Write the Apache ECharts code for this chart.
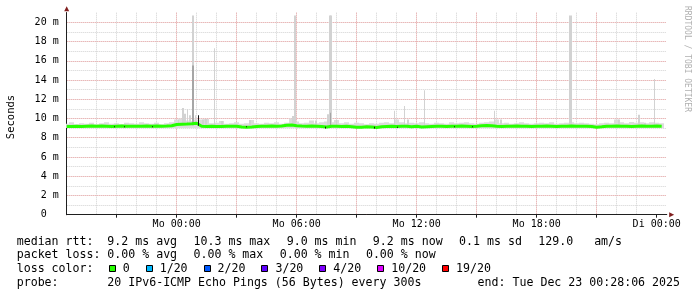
<!DOCTYPE html>
<html><head><meta charset="utf-8">
<script src="https://cdn.jsdelivr.net/npm/echarts@6/dist/echarts.min.js"></script>
<style>html,body{margin:0;padding:0;background:#fff}#c{width:697px;height:297px}</style>
</head><body><div id="c"></div>
<script>
// time in hours relative to Mo 00:00
const startHour = -5.5;
const stepHours = 0.25;
const xMin = -5.5, xMax = 24.5;
const xMinorTicks = [-5, -4, -3, -2, -1, 0, 1, 2, 3, 4, 5, 6, 7, 8, 9, 10, 11, 12, 13, 14, 15, 16, 17, 18, 19, 20, 21, 22, 23, 24];
const xMajorTicks = [-3, 0, 3, 6, 9, 12, 15, 18, 21, 24];
const xLabelTicks = [0, 6, 12, 18, 24];
const xTickLabels = ['Mo 00:00', 'Mo 06:00', 'Mo 12:00', 'Mo 18:00', 'Di 00:00'];
const yMax = 21;

// median rtt (ms), every 15 min
const median = [
  9.18, 9.17, 9.2, 9.18, 9.2, 9.22, 9.2, 9.21, 9.2, 9.18, 9.2, 9.22, 9.2, 9.2, 9.19, 9.2, 9.21, 9.2, 9.22, 9.2, 9.21, 9.25,
  9.38, 9.4, 9.42, 9.45,
  9.5,
  9.2, 9.18, 9.2, 9.17, 9.18, 9.2, 9.2, 9.2,
  9.12, 9.1, 9.12,
  9.18, 9.2, 9.2, 9.22, 9.2, 9.22,
  9.3, 9.32,
  9.25, 9.22, 9.2, 9.22, 9.2, 9.18, 9.12,
  9.2, 9.2, 9.18, 9.2, 9.15, 9.08, 9.1, 9.15, 9.12, 9.06,
  9.15, 9.18, 9.2, 9.18, 9.2, 9.2, 9.15, 9.2,
  9.12, 9.15, 9.18, 9.2,
  9.2, 9.18, 9.2, 9.2, 9.22, 9.2, 9.18, 9.2, 9.25, 9.28,
  9.25, 9.2, 9.18, 9.2, 9.2, 9.22, 9.2, 9.2, 9.18, 9.2,
  9.2, 9.22, 9.2, 9.18, 9.2, 9.2, 9.22, 9.2, 9.2, 9.2, 9.18,
  9.1, 9.14,
  9.2, 9.2, 9.22, 9.2, 9.2, 9.18, 9.2, 9.22, 9.2, 9.2, 9.22, 9.2
];

// upper edge of the low smoke (ms), every 15 min
const smokeHi = [
  9.45, 9.6, 9.4, 9.5, 9.45, 9.55, 9.4, 9.5, 9.6, 9.45, 9.5, 9.4, 9.55, 9.5, 9.45, 9.6, 9.5, 9.45, 9.55, 9.4, 9.5, 9.6,
  9.9, 10.0, 9.8, 9.75, 9.9,
  9.9, 9.95, 9.5, 9.55, 9.75, 9.45, 9.5, 9.6, 9.45, 9.5, 9.85, 9.5, 9.45, 9.55, 9.5, 9.6, 9.45, 9.55, 10.0,
  9.7, 9.5, 9.55, 9.8, 9.5, 9.6, 9.7,
  9.6, 9.85, 9.5, 9.6, 9.45, 9.55, 9.5, 9.4, 9.5, 9.45,
  9.55, 9.6, 9.5, 9.9, 9.6, 9.5, 9.55, 9.5,
  9.6, 9.5, 9.45, 9.55,
  9.5, 9.45, 9.6, 9.5, 9.55, 9.6, 9.5, 9.45, 9.55, 9.6,
  9.7, 9.9, 9.5, 9.55, 9.45, 9.5, 9.6, 9.5, 9.45, 9.5,
  9.55, 9.5, 9.6, 9.45, 9.5, 9.55, 9.6, 9.5, 9.55, 9.5, 9.45,
  9.4, 9.5,
  9.55, 9.5, 9.9, 9.6, 9.5, 9.65, 9.55, 9.6, 9.5, 9.6, 9.55, 9.5
];
const smokeFloor = 9.02;

// individual smoke spikes (5 min samples)
const spikeHours = [0.09, 0.315, 0.415, 0.54, 0.665, 0.815, 0.94, 1.315, 1.465, 1.89, 2.265, 3.665,
  5.815, 5.9, 6.955, 7.565, 7.65, 7.73, 7.99, 10.89, 11.385, 11.55, 12.385, 15.885, 16.215,
  19.66, 19.74, 22.115, 23.13, 23.415, 23.885];
const spikeTops = [9.9, 11.1, 10.5, 10.95, 10.35, 20.7, 10.35, 9.9, 9.95, 17.3, 9.75, 9.85,
  10.25, 20.7, 9.8, 10.45, 20.7, 20.7, 9.85, 10.8, 11.3, 9.9, 12.95, 10.8, 9.9,
  20.7, 20.7, 9.9, 10.4, 9.55, 14.1];
const spikeBase = 9.3;

const darkSpikeHours = [0.815, 7.69];
const darkSpikeTops = [15.5, 10.6];

const blackHours = [-3.12, -2.62, -1.2, 1.07, 3.5, 7.45, 9.88, 11.03, 13.87, 14.8];
const blackLo = [9.1, 9.1, 9.1, 9.25, 9.1, 8.95, 8.95, 9.05, 9.1, 9.1];
const blackHi = [9.2, 9.2, 9.2, 10.35, 9.2, 9.15, 9.15, 9.15, 9.2, 9.2];

const lossLabels = ['0', '1/20', '2/20', '3/20', '4/20', '10/20', '19/20'];
const lossColors = ['#26ff00', '#00b8ff', '#0059ff', '#5e00ff', '#7e00ff', '#dd00ff', '#ff0000'];

const rttLine = ['median rtt:', '9.2 ms avg', '10.3 ms max', '9.0 ms min', '9.2 ms now', '0.1 ms sd', '129.0   am/s'];
const lossLine = ['packet loss:', '0.00 % avg', '0.00 % max', '0.00 % min', '0.00 % now'];
const probeText = '20 IPv6-ICMP Echo Pings (56 Bytes) every 300s';
const endText = 'end: Tue Dec 23 00:28:06 2025';

const MONO = '"DejaVu Sans Mono"';
const chart = echarts.init(document.getElementById('c'), null, {renderer: 'canvas'});

function rectItem(color, widthH) {
  return function (params, api) {
    const x = api.value(0), lo = api.value(1), hi = api.value(2);
    const p1 = api.coord([x - widthH / 2, hi]);
    const p2 = api.coord([x + widthH / 2, lo]);
    const x0 = Math.round(p1[0]);
    const w = Math.max(1, Math.round(p2[0]) - x0);
    return {type: 'rect', shape: {x: x0, y: p1[1], width: w, height: p2[1] - p1[1]}, style: {fill: color}};
  };
}

const baseSmoke = median.map((m, i) => [startHour + i * stepHours, smokeFloor, smokeHi[i]]);
const spikes = spikeHours.map((h, i) => [h, spikeBase, spikeTops[i]]);
const darkSpikes = darkSpikeHours.map((h, i) => [h, spikeBase, darkSpikeTops[i]]);
const blacks = blackHours.map((h, i) => [h, blackLo[i], blackHi[i]]);
const medianData = median.map((v, i) => [startHour + i * stepHours, v]);

// legend text
const cw = 6.97, gap = 16.5, x0 = 16.7, xv = 107.3;
const rowY = [241.7, 255.3, 269.3, 282.7];
const graphics = [];
function txt(s, x, y) {
  graphics.push({type: 'text', x: x, y: y, silent: true,
    style: {text: s, font: '11.6px ' + MONO, fill: '#000', align: 'left', verticalAlign: 'middle'}});
}
function row(list, y) {
  txt(list[0], x0, y);
  let x = xv;
  for (let k = 1; k < list.length; k++) { txt(list[k], x, y); x += list[k].length * cw + gap; }
}
row(rttLine, rowY[0]);
row(lossLine, rowY[1]);
txt('loss color:', x0, rowY[2]);
let bx = 108.7;
lossLabels.forEach((lab, k) => {
  graphics.push({type: 'rect', silent: true, shape: {x: Math.round(bx) + 0.5, y: 265.5, width: 6, height: 6},
    style: {fill: lossColors[k], stroke: '#000', lineWidth: 1}});
  const tx = bx + 14;
  txt(lab, tx, rowY[2]);
  bx = tx + lab.length * cw + 16;
});
txt('probe:', x0, rowY[3]);
txt(probeText, xv, rowY[3]);
graphics.push({type: 'text', x: 680, y: rowY[3], silent: true,
  style: {text: endText, font: '11.6px ' + MONO, fill: '#000', align: 'right', verticalAlign: 'middle'}});
graphics.push({type: 'text', x: 11.7, y: 117, rotation: Math.PI / 2, silent: true,
  style: {text: 'Seconds', font: '10.5px ' + MONO, fill: '#000', align: 'center', verticalAlign: 'middle'}});
graphics.push({type: 'text', x: 687.5, y: 59, rotation: -Math.PI / 2, silent: true,
  style: {text: 'RRDTOOL / TOBI OETIKER', font: '8px ' + MONO, fill: '#b0b0b0', align: 'center', verticalAlign: 'middle'}});

const minorStyle = {color: '#d2d2d2', type: [1, 1], width: 1};
const majorStyle = {color: '#efa8a8', type: [1, 1], width: 1};

const option = {
  animation: false,
  backgroundColor: '#ffffff',
  grid: {left: 66.7, right: 30.3, top: 12.7, bottom: 82.3, containLabel: false},
  xAxis: [
    {type: 'value', min: xMin, max: xMax, position: 'bottom', z: 1,
      axisLine: {show: false}, axisTick: {show: false, customValues: xMinorTicks},
      axisLabel: {show: false, customValues: xLabelTicks},
      splitLine: {show: true, showMinLine: false, showMaxLine: false, lineStyle: minorStyle}},
    {type: 'value', min: xMin, max: xMax, position: 'bottom', z: 3,
      axisLine: {show: true, onZero: false, lineStyle: {color: '#1f1f1f', width: 1}},
      axisTick: {show: true, length: 3, inside: false, lineStyle: {color: '#1f1f1f'}, customValues: xMajorTicks},
      axisLabel: {show: true, margin: 5, color: '#000', fontFamily: MONO, fontSize: 10, customValues: xLabelTicks,
        formatter: v => { const k = xLabelTicks.indexOf(Math.round(v)); return k >= 0 ? xTickLabels[k] : ''; }},
      splitLine: {show: true, showMinLine: false, showMaxLine: false, lineStyle: majorStyle}},
    {type: 'value', min: xMin, max: xMax, position: 'bottom', z: 2,
      axisLine: {show: true, onZero: false, lineStyle: {color: '#801f1f', width: 1},
        symbol: ['none', 'triangle'], symbolSize: [5, 5], symbolOffset: [0, 5]},
      axisTick: {show: false}, axisLabel: {show: false}, splitLine: {show: false}}
  ],
  yAxis: [
    {type: 'value', min: 0, max: yMax, interval: 1, position: 'left', z: 1,
      axisLine: {show: false}, axisTick: {show: false}, axisLabel: {show: false},
      splitLine: {show: true, showMinLine: false, showMaxLine: false, lineStyle: minorStyle}},
    {type: 'value', min: 0, max: yMax, interval: 2, position: 'left', z: 3,
      axisLine: {show: true, onZero: false, lineStyle: {color: '#1f1f1f', width: 1}},
      axisTick: {show: false},
      axisLabel: {show: true, margin: 8, color: '#000', fontFamily: MONO, fontSize: 10,
        formatter: v => v === 0 ? '0  ' : (v % 2 === 0 && v <= 20 ? v + ' m' : '')},
      splitLine: {show: true, showMinLine: false, showMaxLine: false, lineStyle: majorStyle}},
    {type: 'value', min: 0, max: yMax, interval: 3, position: 'left', z: 2,
      axisLine: {show: true, onZero: false, lineStyle: {color: '#801f1f', width: 1},
        symbol: ['none', 'triangle'], symbolSize: [5, 5], symbolOffset: [0, 4]},
      axisTick: {show: false}, axisLabel: {show: false}, splitLine: {show: false}}
  ],
  series: [
    {type: 'custom', name: 'smoke', xAxisIndex: 1, yAxisIndex: 1, z: 5, clip: true,
      renderItem: rectItem('#dcdcdc', stepHours), data: baseSmoke, encode: {x: 0, y: [1, 2]}},
    {type: 'custom', name: 'spikes', xAxisIndex: 1, yAxisIndex: 1, z: 6, clip: true,
      renderItem: rectItem('#d2d2d2', 5 / 60), data: spikes, encode: {x: 0, y: [1, 2]}},
    {type: 'custom', name: 'darkSpikes', xAxisIndex: 1, yAxisIndex: 1, z: 7, clip: true,
      renderItem: rectItem('#a6a6a6', 5 / 60), data: darkSpikes, encode: {x: 0, y: [1, 2]}},
    {type: 'line', name: 'median', xAxisIndex: 1, yAxisIndex: 1, z: 8, data: medianData,
      showSymbol: false, symbol: 'none', lineStyle: {color: '#26ff00', width: 3}},
    {type: 'custom', name: 'black', xAxisIndex: 1, yAxisIndex: 1, z: 9, clip: true,
      renderItem: rectItem('#111111', 3 / 60), data: blacks, encode: {x: 0, y: [1, 2]}}
  ],
  graphic: graphics
};
chart.setOption(option);
</script>
</body></html>
